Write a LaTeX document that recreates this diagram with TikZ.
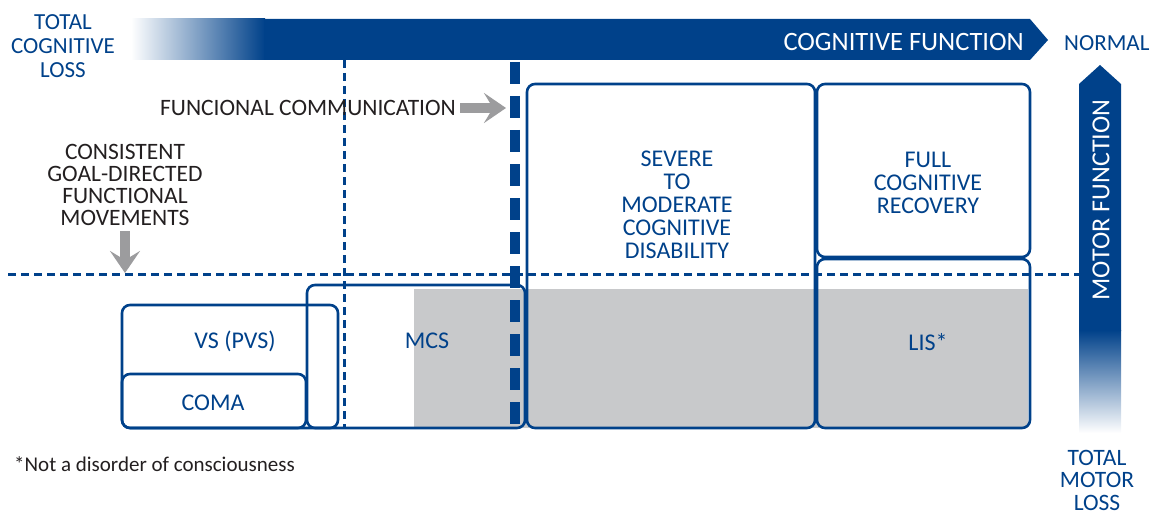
\documentclass[tikz,border=0pt]{standalone}
\usepackage{fontspec}
\setmainfont{Carlito}
\usetikzlibrary{arrows.meta}
\definecolor{cblue}{HTML}{00418A}
\definecolor{cgrey}{HTML}{9C9C9E}
\definecolor{cfill}{HTML}{C8C9CB}
\definecolor{ctext}{HTML}{231F20}
\tikzset{
  box/.style={draw=cblue, line width=2.6pt, rounded corners=8pt},
  bluelabel/.style={text=cblue, align=center, inner sep=0pt, font=\fontsize{24}{23}\selectfont},
  darklabel/.style={text=ctext, align=center, inner sep=0pt, font=\fontsize{23.5}{21.7}\selectfont},
  thindash/.style={draw=cblue, line width=3pt, dash pattern=on 8pt off 5pt},
  thickdash/.style={draw=cblue, line width=10pt, dash pattern=on 22pt off 12pt},
  greyarrow/.style={draw=cgrey, line width=10pt, -{Stealth[width=30pt,length=22pt,inset=9pt]}},
}
\begin{document}
\begin{tikzpicture}[x=1pt,y=-1pt]
\useasboundingbox (0,0) rectangle (1151,516);
% top cognitive bar
\shade[left color=white, right color=cblue] (131,19) rectangle (265,60);
\fill[cblue] (264,19) -- (1030,19) -- (1048,40) -- (1030,60) -- (264,60) -- cycle;
\node[text=white, anchor=east, inner sep=0pt, font=\fontsize{26.5}{26.5}\selectfont] (cogf) at (1024,42) {COGNITIVE FUNCTION};
\node[bluelabel, font=\fontsize{23}{23}\selectfont, anchor=west] (normal) at (1064,43) {NORMAL};
\node[bluelabel, font=\fontsize{23}{24}\selectfont] (tcl) at (63,46) {TOTAL\\COGNITIVE\\LOSS};
% vertical motor bar
\fill[cblue] (1079,331) -- (1079,84) -- (1100,65) -- (1121,84) -- (1121,331) -- cycle;
\shade[top color=cblue, bottom color=white] (1079,330) rectangle (1121,433);
\node[text=white, rotate=90, inner sep=0pt, font=\fontsize{26}{26}\selectfont] (motf) at (1101,200) {MOTOR FUNCTION};
\node[bluelabel, font=\fontsize{23.5}{22.5}\selectfont] (tml) at (1097,480) {TOTAL\\MOTOR\\LOSS};
% grey fill
\fill[cfill] (414,289) rectangle (1028,428);
% boxes
\draw[box] (122,428) rectangle (338,305);
\draw[box] (122,428) rectangle (306,374);
\draw[box] (307,428) rectangle (525,285);
\draw[box] (527,428) rectangle (815,84);
\draw[box] (817,257) rectangle (1030,84);
\draw[box] (817,428) rectangle (1030,259);
% dashed lines
\coordinate (hl) at (8,274);
\coordinate (hr) at (1079,274);
\draw[thindash] (hl) -- (hr);
\coordinate (v1t) at (344,60);
\coordinate (v1b) at (344,428);
\draw[thindash] (v1t) -- (v1b);
\coordinate (v2t) at (514.5,62);
\coordinate (v2b) at (514.5,428);
\draw[thickdash] (v2t) -- (v2b);
% box labels
\node[bluelabel] (vs) at (235,341) {VS (PVS)};
\node[bluelabel] (coma) at (213,403) {COMA};
\node[bluelabel] (mcs) at (427,341) {MCS};
\node[bluelabel] (sev) at (677,205) {SEVERE\\TO\\MODERATE\\COGNITIVE\\DISABILITY};
\node[bluelabel] (full) at (928,183) {FULL\\COGNITIVE\\RECOVERY};
\node[bluelabel] (lis) at (928,342) {LIS*};
% grey arrows
\node[darklabel, anchor=east] (fc) at (456,108) {FUNCIONAL COMMUNICATION};
\coordinate (fce) at (506,108);
\draw[greyarrow] ([xshift=4pt]fc.east) -- (fce);
\node[darklabel] (cgd) at (125,185) {CONSISTENT\\GOAL-DIRECTED\\FUNCTIONAL\\MOVEMENTS};
\coordinate (cgde) at (125,273);
\draw[greyarrow] ([yshift=-6pt]cgd.south) -- (cgde);
% footnote
\node[text=ctext, anchor=west, inner sep=0pt, font=\fontsize{21}{21}\selectfont] (note) at (14,464) {*Not a disorder of consciousness};
\end{tikzpicture}
\end{document}
